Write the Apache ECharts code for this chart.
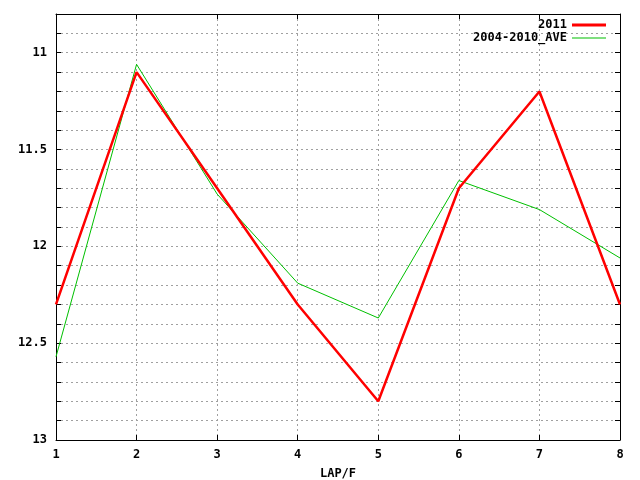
<!DOCTYPE html>
<html><head><meta charset="utf-8">
<script src="https://cdn.jsdelivr.net/npm/echarts@6/dist/echarts.min.js"></script>
<style>html,body{margin:0;padding:0;background:#fff}#c{width:640px;height:480px}</style>
</head><body><div id="c"></div>
<script>
var laps = [1, 2, 3, 4, 5, 6, 7, 8];
var s2011 = [12.3, 11.1, 11.7, 12.3, 12.8, 11.7, 11.2, 12.3];
var sAve = [12.57, 11.06, 11.73, 12.19, 12.37, 11.66, 11.81, 12.06];
var yLabels = [11, 11.5, 12, 12.5, 13];

var font = 'DejaVu Sans Mono';
function pairs(v){ return laps.map(function(x,i){ return [x, v[i]]; }); }
var grid = {color:'#a0a0a0', type:[2,3], width:1};
var chart = echarts.init(document.getElementById('c'));
chart.setOption({
  animation:false,
  backgroundColor:'#fff',
  grid:{left:56, right:20, top:14, bottom:40, containLabel:false, outerBoundsMode:'none'},
  legend:{
    orient:'vertical', right:29, top:14, align:'right', itemGap:1,
    itemWidth:34, itemHeight:12,
    textStyle:{fontFamily:font, fontWeight:'bold', fontSize:12, color:'#000', padding:[0,0,0,1]},
    data:[
      {name:'2011', icon:'path://M0,0H34V3H0Z', itemStyle:{color:'#ff0000'}},
      {name:'2004-2010_AVE', icon:'path://M0,0H34V1H0Z', itemStyle:{color:'#00c000'}}
    ]
  },
  xAxis:[{
    type:'value', min:1, max:8, interval:1,
    name:'LAP/F', nameLocation:'middle', nameGap:28,
    nameTextStyle:{fontFamily:font, fontWeight:'bold', fontSize:12, color:'#000'},
    axisLine:{onZero:false, lineStyle:{color:'#000', width:1}},
    axisTick:{inside:true, length:5, lineStyle:{color:'#000'}},
    axisLabel:{margin:9, fontFamily:font, fontWeight:'bold', fontSize:12, color:'#000'},
    splitLine:{show:true, lineStyle:grid}
  },{
    type:'value', min:1, max:8, interval:1, position:'top',
    axisLine:{onZero:false, lineStyle:{color:'#000', width:1}},
    axisTick:{inside:true, length:5, lineStyle:{color:'#000'}},
    axisLabel:{show:false}, splitLine:{show:false}
  }],
  yAxis:[{
    type:'value', inverse:true, min:10.8, max:13, interval:0.1,
    axisLine:{onZero:false, lineStyle:{color:'#000', width:1}},
    axisTick:{inside:true, length:5, lineStyle:{color:'#000'}},
    axisLabel:{margin:9, fontFamily:font, fontWeight:'bold', fontSize:12, color:'#000',
      formatter:function(v){
        for (var i=0;i<yLabels.length;i++){ if (Math.abs(v-yLabels[i])<1e-6) return String(yLabels[i]); }
        return '';
      }},
    splitLine:{show:true, lineStyle:grid}
  },{
    type:'value', inverse:true, min:10.8, max:13, interval:0.1, position:'right',
    axisLine:{onZero:false, lineStyle:{color:'#000', width:1}},
    axisTick:{inside:true, length:5, lineStyle:{color:'#000'}},
    axisLabel:{show:false}, splitLine:{show:false}
  }],
  series:[
    {name:'2011', type:'line', data:pairs(s2011), symbol:'none', z:3,
     lineStyle:{color:'#ff0000', width:2.5}, itemStyle:{color:'#ff0000'}},
    {name:'2004-2010_AVE', type:'line', data:pairs(sAve), symbol:'none', z:2,
     lineStyle:{color:'#00c000', width:1}, itemStyle:{color:'#00c000'}}
  ]
});
</script></body></html>
